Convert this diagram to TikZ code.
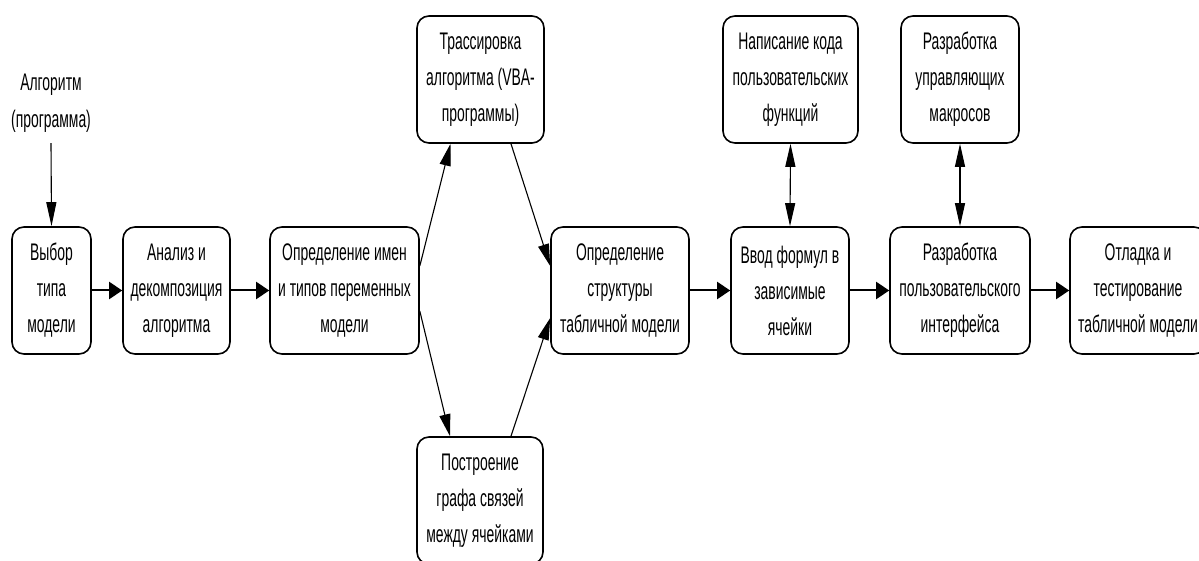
\documentclass[tikz,border=0pt]{standalone}
\usepackage{fontspec}
\setmainfont{Liberation Sans}
\newfontfamily\narrowfont[FakeStretch=0.58]{Liberation Sans}
\usetikzlibrary{arrows.meta,calc}
\tikzset{
  box/.style={draw=black, line width=1.6pt, rounded corners=12pt, minimum height=127pt, inner sep=0pt, align=center, font=\narrowfont\fontsize{24}{36}\selectfont},
  lbl/.style={inner sep=0pt, align=center, font=\narrowfont\fontsize{24}{37}\selectfont},
  harrow/.style={line width=2pt, -{Triangle[length=13pt,width=17pt]}},
  varrow/.style={line width=1.1pt, -{Triangle[length=24pt,width=10pt]}},
  darrow/.style={line width=1.1pt, -{Triangle[length=22pt,width=11pt]}},
  biarrow/.style={line width=1.1pt, {Triangle[length=23pt,width=10pt]}-{Triangle[length=23pt,width=10pt]}}
}
\begin{document}
\begin{tikzpicture}[x=1pt,y=-1pt]
\fill[white] (0,0) rectangle (1199,561);
\useasboundingbox (0,0) rectangle (1199,561);
% nodes
\node[lbl, minimum height=80pt] (inp) at (51,103) {Алгоритм\\(программа)};
\node[box, minimum width=79pt] (vybor) at (51.5,290.5) {Выбор\\типа\\модели};
\node[box, minimum width=107pt] (analiz) at (176.5,290.5) {Анализ и\\декомпозиция\\алгоритма};
\node[box, minimum width=149pt] (imen) at (344.5,290.5) {Определение имен\\и типов переменных\\модели};
\node[box, minimum width=127pt] (trass) at (480.5,79.5) {Трассировка\\алгоритма (VBA-\\программы)};
\node[box, minimum width=126pt] (postr) at (480,500.5) {Построение\\графа связей\\между ячейками};
\node[box, minimum width=138pt] (struct) at (620,290.5) {Определение\\структуры\\табличной модели};
\node[box, minimum width=135pt] (napis) at (790.5,79.5) {Написание кода\\пользовательских\\функций};
\node[box, minimum width=118pt] (upr) at (960,79.5) {Разработка\\управляющих\\макросов};
\node[box, minimum width=118pt] (vvod) at (790,290.5) {Ввод формул в\\зависимые\\ячейки};
\node[box, minimum width=140pt] (razr) at (960,290.5) {Разработка\\пользовательского\\интерфейса};
\node[box, minimum width=136pt] (otl) at (1138,290.5) {Отладка и\\тестирование\\табличной модели};
% connectors
\draw[varrow] (inp.south) -- (vybor.north);
\draw[harrow] (vybor) -- (analiz);
\draw[harrow] (analiz) -- (imen);
\draw[darrow] ([yshift=24.5pt]imen.east) -- ([xshift=-30pt]trass.south);
\draw[darrow] ([xshift=30.5pt]trass.south) -- ([yshift=24.5pt]struct.west);
\draw[darrow] ([yshift=-20.5pt]imen.east) -- ([xshift=-30pt]postr.north);
\draw[darrow] ([xshift=31pt]postr.north) -- ([yshift=-27.5pt]struct.west);
\draw[harrow] (struct) -- (vvod);
\draw[harrow] (vvod) -- (razr);
\draw[harrow] (razr) -- (otl);
\draw[biarrow] (napis.south) -- (vvod.north);
\draw[biarrow] (upr.south) -- (razr.north);
\end{tikzpicture}
\end{document}
